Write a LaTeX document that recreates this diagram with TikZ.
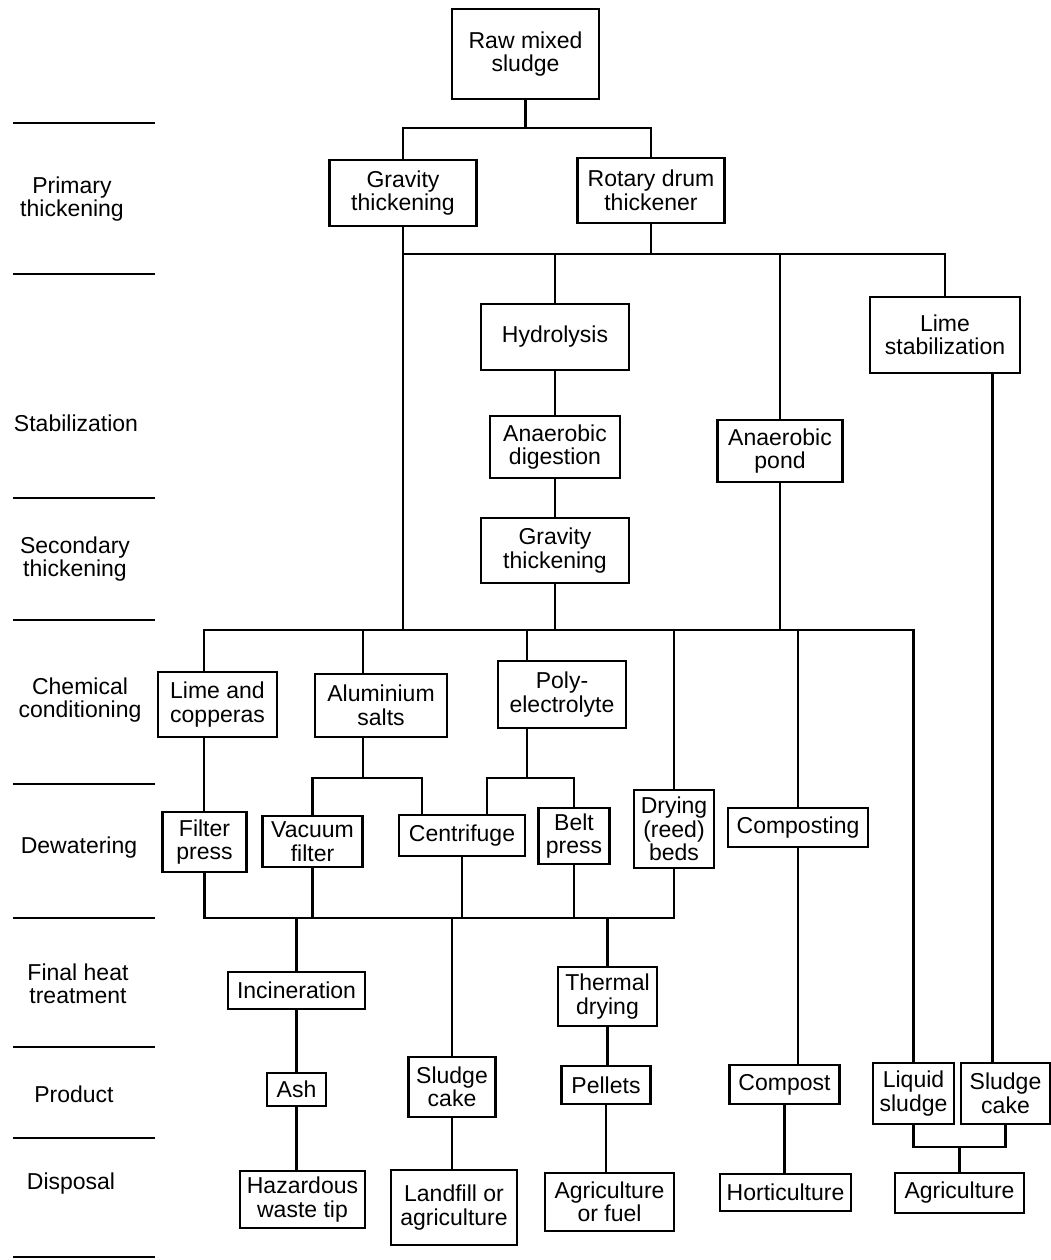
\documentclass[tikz,border=0pt]{standalone}
\usepackage{fontspec}
\setmainfont{Liberation Sans}
\begin{document}
\begin{tikzpicture}[x=1pt,y=-1pt,line width=2.6pt,
  box/.style={draw,rectangle,inner sep=0pt,align=center,font=\fontsize{23}{23.5}\selectfont},
  lab/.style={align=center,inner sep=0pt,font=\fontsize{23}{23.5}\selectfont},
  sep/.style={line width=2.6pt}]
\useasboundingbox (0,0) rectangle (1051,1260);
% ---------- left column ----------
\foreach \yy in {123,274,498,620,784,918,1047,1138,1257}
  \draw[sep] (13,\yy) -- (155,\yy);
\node[lab] (l1) at (72,199) {Primary\\thickening};
\node[lab] (l2) at (76,423) {Stabilization};
\node[lab] (l3) at (75,559) {Secondary\\thickening};
\node[lab] (l4) at (80,700) {Chemical\\conditioning};
\node[lab] (l5) at (79,848) {Dewatering};
\node[lab] (l6) at (78,984) {Final heat\\treatment};
\node[lab] (l7) at (74,1094) {Product};
\node[lab] (l8) at (71,1184) {Disposal};
% ---------- boxes ----------
\node[box,minimum width=147,minimum height=90] (raw) at (525.5,54) {Raw mixed\\sludge};
\node[box,minimum width=147,minimum height=66] (gt1) at (403,193) {Gravity\\thickening};
\node[box,minimum width=147,minimum height=65] (rdt) at (651,190.5) {Rotary drum\\thickener};
\node[box,minimum width=148,minimum height=66] (hyd) at (555,337) {Hydrolysis};
\node[box,minimum width=150,minimum height=76] (lime) at (945,335) {Lime\\stabilization};
\node[box,minimum width=130,minimum height=62] (ad) at (555,447) {Anaerobic\\digestion};
\node[box,minimum width=125,minimum height=62] (pond) at (780,451) {Anaerobic\\pond};
\node[box,minimum width=148,minimum height=65] (gt2) at (555,550.5) {Gravity\\thickening};
\node[box,minimum width=119,minimum height=65] (lc) at (217.5,704.5) {Lime and\\copperas};
\node[box,minimum width=132,minimum height=63] (al) at (381,705.5) {Aluminium\\salts};
\node[box,minimum width=128,minimum height=67] (poly) at (562,694.5) {Poly-\\electrolyte};
\node[box,minimum width=84,minimum height=60] (fp) at (204.5,842) {Filter\\press};
\node[box,minimum width=100,minimum height=51] (vf) at (312.5,841.5) {Vacuum\\filter};
\node[box,minimum width=126,minimum height=41] (cen) at (462,835.5) {Centrifuge};
\node[box,minimum width=71,minimum height=56] (belt) at (574,836) {Belt\\press};
\node[box,minimum width=80,minimum height=78] (dry) at (674,829) {Drying\\(reed)\\beds};
\node[box,minimum width=140,minimum height=39] (comp) at (798,827.5) {Composting};
\node[box,minimum width=137,minimum height=37] (inc) at (296.5,990.5) {Incineration};
\node[box,minimum width=99,minimum height=59] (therm) at (607.5,996.5) {Thermal\\drying};
\node[box,minimum width=59,minimum height=33] (ash) at (296.5,1089.5) {Ash};
\node[box,minimum width=87,minimum height=60] (sc1) at (452,1087) {Sludge\\cake};
\node[box,minimum width=89,minimum height=38] (pel) at (606,1085) {Pellets};
\node[box,minimum width=110,minimum height=39] (compost) at (784.5,1084.5) {Compost};
\node[box,minimum width=81,minimum height=61] (liq) at (913.5,1093.5) {Liquid\\sludge};
\node[box,minimum width=89,minimum height=61] (sc2) at (1005.5,1093.5) {Sludge\\cake};
\node[box,minimum width=125,minimum height=57] (haz) at (302.5,1199.5) {Hazardous\\waste tip};
\node[box,minimum width=126,minimum height=75] (land) at (454,1207.5) {Landfill or\\agriculture};
\node[box,minimum width=129,minimum height=58] (agf) at (609.5,1202) {Agriculture\\or fuel};
\node[box,minimum width=131,minimum height=37] (hort) at (785.5,1192.5) {Horticulture};
\node[box,minimum width=129,minimum height=40] (agr) at (959.5,1193) {Agriculture};
% ---------- helper coordinates ----------
\coordinate (rA) at (0,128);
\coordinate (rB) at (0,254);
\coordinate (rC) at (0,630);
\coordinate (rD) at (0,778);
\coordinate (rE) at (0,918);
\coordinate (rF) at (0,1147);
\coordinate (xL) at (992.5,0);
\coordinate (xlc) at (204,0);
\coordinate (xal) at (363,0);
\coordinate (xpo) at (527,0);
\coordinate (xcl) at (422,0);
\coordinate (xcr) at (487,0);
% ---------- connectors ----------
\draw (raw.south) -- (raw.south |- rA);
\draw (gt1.north) |- (rdt.north |- rA) -- (rdt.north);
\draw (gt1.south) -- (gt1.south |- rC);
\draw (rdt.south) -- (rdt.south |- rB);
\draw (gt1.south |- rB) -| (lime.north);
\draw (hyd.north |- rB) -- (hyd.north);
\draw (pond.north |- rB) -- (pond.north);
\draw (hyd.south) -- (ad.north);
\draw (ad.south) -- (gt2.north);
\draw (gt2.south) -- (gt2.south |- rC);
\draw (pond.south) -- (pond.south |- rC);
\draw (lime.south -| xL) -- (sc2.north -| xL);
% main split
\draw (lc.north -| xlc) |- (liq.north |- rC) -- (liq.north);
\draw (xal |- rC) -- (al.north -| xal);
\draw (xpo |- rC) -- (poly.north -| xpo);
\draw (dry.north |- rC) -- (dry.north);
\draw (comp.north |- rC) -- (comp.north);
% conditioning to dewatering
\draw (lc.south -| xlc) -- (fp.north -| xlc);
\draw (al.south -| xal) -- (xal |- rD);
\draw (vf.north) |- (xcl |- rD) -- (cen.north -| xcl);
\draw (poly.south -| xpo) -- (xpo |- rD);
\draw (cen.north -| xcr) |- (belt.north |- rD) -- (belt.north);
% dewatering merge
\draw (fp.south) |- (dry.south |- rE) -- (dry.south);
\draw (vf.south) -- (vf.south |- rE);
\draw (cen.south) -- (cen.south |- rE);
\draw (belt.south) -- (belt.south |- rE);
\draw (inc.north |- rE) -- (inc.north);
\draw (sc1.north |- rE) -- (sc1.north);
\draw (therm.north |- rE) -- (therm.north);
% products and disposal
\draw (inc.south) -- (inc.south |- ash.north);
\draw (ash.south) -- (ash.south |- haz.north);
\draw (sc1.south) -- (sc1.south |- land.north);
\draw (therm.south) -- (therm.south |- pel.north);
\draw (pel.south) -- (pel.south |- agf.north);
\draw (comp.south) -- (comp.south |- compost.north);
\draw (compost.south) -- (compost.south |- hort.north);
\draw (liq.south) |- (sc2.south |- rF) -- (sc2.south);
\draw (agr.north |- rF) -- (agr.north);
\end{tikzpicture}
\end{document}
